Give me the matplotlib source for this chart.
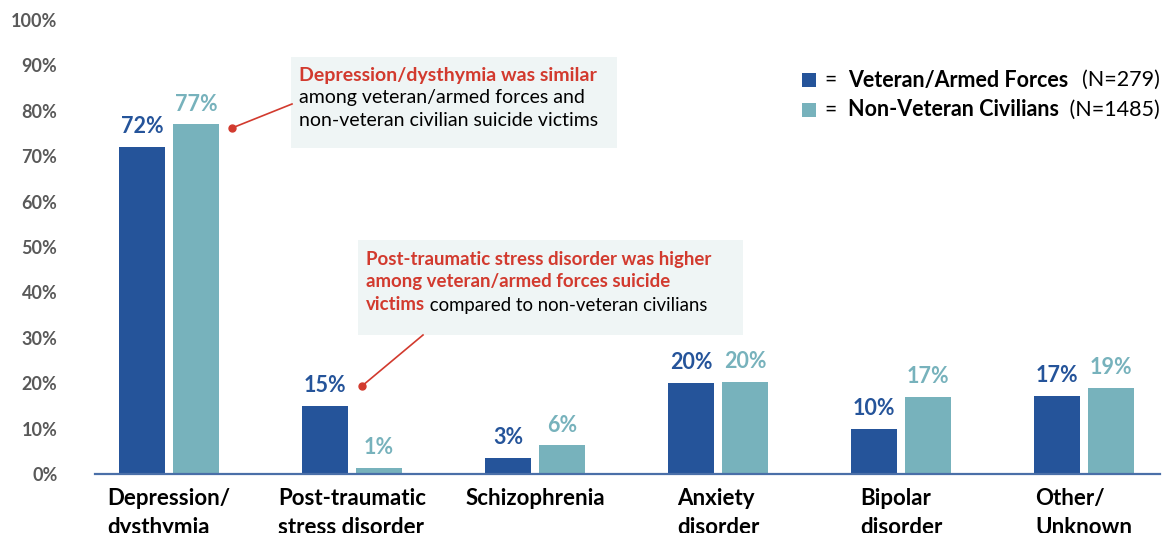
import numpy as np
import matplotlib
matplotlib.use("Agg")
from matplotlib import pyplot as plt
from matplotlib.patches import Rectangle

plt.rcParams['font.family'] = ['Lato', 'DejaVu Sans']

# data
categories = ['Depression/\ndysthymia', 'Post-traumatic\nstress disorder', 'Schizophrenia',
              'Anxiety\ndisorder', 'Bipolar\ndisorder', 'Other/\nUnknown']
veteran = [72, 15, 3.5, 20, 10, 17.2]
civilian = [77, 1.3, 6.3, 20.3, 17, 19]
veteran_labels = ['72%', '15%', '3%', '20%', '10%', '17%']
civilian_labels = ['77%', '1%', '6%', '20%', '17%', '19%']
yticks = [0, 10, 20, 30, 40, 50, 60, 70, 80, 90, 100]

dark = '#25549A'
light = '#77B2BC'
red = '#D23A2E'
boxc = '#EFF5F5'

W, H = 1165, 533
fig = plt.figure(figsize=(W / 100, H / 100), dpi=100)
ax = fig.add_axes([95 / W, (H - 474) / H, (1160 - 95) / W, (474 - 20) / H])

x = np.arange(len(categories))
bw = 0.255
off = 0.147
ax.bar(x - off, veteran, bw, color=dark, zorder=2)
ax.bar(x + off, civilian, bw, color=light, zorder=2)

for i in range(len(x)):
    ax.annotate(veteran_labels[i], (x[i] - off, veteran[i]), xytext=(0, 7), textcoords='offset points',
                ha='center', va='bottom', color=dark, fontsize=15.5, fontweight='bold')
    ax.annotate(civilian_labels[i], (x[i] + off, civilian[i]), xytext=(0, 7), textcoords='offset points',
                ha='center', va='bottom', color=light, fontsize=15.5, fontweight='bold')

ax.set_xlim(-0.404, 5.415)
ax.set_ylim(0, 100)
ax.set_yticks(yticks)
ax.set_yticklabels([f'{v}%' for v in yticks], fontsize=13, fontweight='bold', color='#595959')
ax.set_xticks(x)
ax.set_xticklabels(categories, fontsize=16, fontweight='bold', va='top', ma='left', linespacing=1.45)
ax.tick_params(axis='y', length=0, pad=27)
ax.tick_params(axis='x', length=0, pad=10)
for s in ['top', 'right', 'left']:
    ax.spines[s].set_visible(False)
ax.spines['bottom'].set_color('#4A6FA8')
ax.spines['bottom'].set_linewidth(1.6)


def fx(px):
    return px / W


def fy(py):
    return (H - py) / H


# annotation box 1
fig.patches.append(Rectangle((fx(291), fy(148)), (617 - 291) / W, (148 - 57) / H,
                             transform=fig.transFigure, facecolor=boxc, edgecolor='none', zorder=0))
fs = 14
fig.text(fx(299), fy(75), 'Depression/dysthymia was similar', color=red, fontweight='bold',
         fontsize=fs, va='center')
fig.text(fx(299), fy(98), 'among veteran/armed forces and', color='black', fontsize=fs, va='center')
fig.text(fx(299), fy(121), 'non-veteran civilian suicide victims', color='black', fontsize=fs, va='center')
fig.add_artist(plt.Line2D([fx(232), fx(292)], [fy(128), fy(104)], color=red, lw=1.2))
fig.add_artist(plt.Line2D([fx(232)], [fy(128)], marker='o', ms=5, color=red))

# annotation box 2
fig.patches.append(Rectangle((fx(358), fy(335)), (743 - 358) / W, (335 - 240) / H,
                             transform=fig.transFigure, facecolor=boxc, edgecolor='none', zorder=0))
fs2 = 13.4
fig.text(fx(366), fy(259), 'Post-traumatic stress disorder was higher', color=red, fontweight='bold',
         fontsize=fs2, va='center')
fig.text(fx(366), fy(282), 'among veteran/armed forces suicide', color=red, fontweight='bold',
         fontsize=fs2, va='center')
t = fig.text(fx(366), fy(305), 'victims', color=red, fontweight='bold', fontsize=fs2, va='center')
fig.add_artist(plt.Line2D([fx(362), fx(423)], [fy(386), fy(335)], color=red, lw=1.2))
fig.add_artist(plt.Line2D([fx(362)], [fy(386)], marker='o', ms=5, color=red))

# legend
legend_rows = [(dark, 'Veteran/Armed Forces', '  (N=279)', 80), (light, 'Non-Veteran Civilians', ' (N=1485)', 110)]
for col, name, n, yy in legend_rows:
    fig.patches.append(Rectangle((fx(802), fy(yy + 7)), 14 / W, 14 / H, transform=fig.transFigure,
                                 facecolor=col, edgecolor='none'))
    fig.text(fx(824), fy(yy), '=', fontsize=15, va='center')
    fig.text(fx(848), fy(yy), name, fontsize=15.5, fontweight='bold', va='center')
    fig.text(fx(1160), fy(yy), n, fontsize=15.5, va='center', ha='right')

fig.canvas.draw()
r = fig.canvas.get_renderer()
bb = t.get_window_extent(r)
fig.text(bb.x1 / W, bb.y0 / H, ' compared to non-veteran civilians', color='black', fontsize=fs2, va='bottom')

fig.savefig('out.png', dpi=100)
